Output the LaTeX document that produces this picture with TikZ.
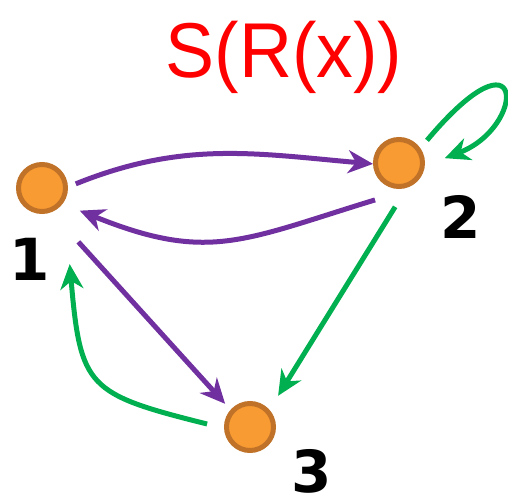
\documentclass[tikz,border=0pt]{standalone}
\usepackage{fontspec}
\setmainfont{DejaVu Sans}
\newfontfamily\titlefont{Liberation Sans}
\usetikzlibrary{arrows.meta,calc}
\definecolor{pur}{HTML}{7030A0}
\definecolor{grn}{HTML}{00B050}
\definecolor{orfill}{HTML}{F99B33}
\definecolor{ordraw}{HTML}{BF7228}
\definecolor{ttl}{HTML}{FF0000}
\begin{document}
\begin{tikzpicture}[x=1pt,y=1pt,
  vert/.style={circle,draw=ordraw,fill=orfill,line width=5pt,minimum size=47pt,inner sep=0pt},
  lab/.style={font=\fontsize{58}{58}\selectfont\bfseries,inner sep=0pt},
  edgeline/.style={line width=5pt,-{Stealth[length=25pt,width=23pt,inset=8pt]}},
  pedge/.style={edgeline,draw=pur,color=pur},
  gedge/.style={edgeline,draw=grn,color=grn}]
\useasboundingbox (0,0) rectangle (508,501);
\node[vert] (n1) at (42,313) {};
\node[vert] (n2) at (399,338) {};
\node[vert] (n3) at (250,74) {};
\node[lab] (l1) at (29.5,242) {1};
\node[lab] (l2) at (461,284) {2};
\node[lab] (l3) at (312,30) {3};
\node[font=\titlefont\fontsize{72}{72}\selectfont,text=ttl,inner sep=0pt] (title) at (284,443.5) {\scalebox{1.02}[1.08]{S(R(x))}};
% edges
\draw[pedge] ($(n1)+(7:34)$) to[out=22,in=175] ($(n2)+(182:26)$);
\draw[pedge] ($(n2)+(237:44)$) to[out=197,in=-22,looseness=1.2] ($(n1)+(-31:44)$);
\draw[pedge] ($(n1)+(-56:65)$) -- ($(n3)+(137:34)$);
\draw[gedge] ($(n2)+(265:44)$) -- ($(n3)+(48:42)$);
\draw[gedge] ($(n3)+(176:43)$) to[out=166,in=-85,looseness=1.5] ($(n1)+(-70:81)$);
\draw[gedge] ($(n2)+(39:36)$) to[out=50,in=21,out distance=155,in distance=88] ($(n2)+(6:46)$);
\end{tikzpicture}
\end{document}
